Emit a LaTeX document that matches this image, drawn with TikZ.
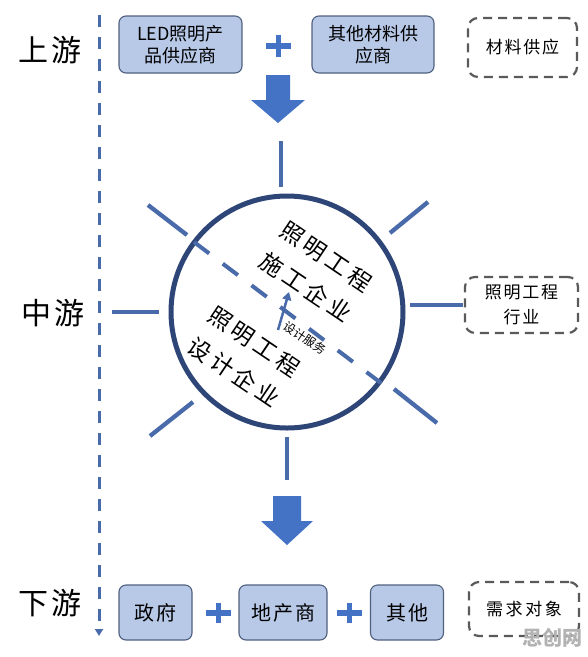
\documentclass[tikz,border=0pt]{standalone}
\usepackage{fontspec}
\setmainfont{Noto Sans CJK SC}
\usetikzlibrary{arrows.meta}
\definecolor{boxfill}{HTML}{B8C9E8}
\definecolor{boxline}{HTML}{50617F}
\definecolor{accent}{HTML}{4472C4}
\definecolor{raycol}{HTML}{4A6BAA}
\definecolor{ring}{HTML}{2E4677}
\definecolor{dashgray}{HTML}{5A5A5A}
\definecolor{wmcol}{HTML}{B2B2B2}
\begin{document}
\begin{tikzpicture}[x=1pt,y=-1pt,
  solidbox/.style={draw=boxline,line width=1.1pt,fill=boxfill,rounded corners=7pt,align=center,inner sep=0pt},
  dashbox/.style={draw=dashgray,line width=2.2pt,dash pattern=on 9pt off 6pt,rounded corners=10pt,align=center,inner sep=0pt},
  sidelabel/.style={font=\fontsize{30}{30}\selectfont\addfontfeature{LetterSpace=10}},
  rayline/.style={draw=raycol,line width=4.3pt},
  plusline/.style={draw=accent,line width=5.5pt},
  blockarrow/.style={fill=accent,draw=none},
  circtext/.style={rotate=-34,align=center,font=\fontsize{23}{37}\selectfont\addfontfeature{LetterSpace=18}},
]
\useasboundingbox (0,0) rectangle (588,657);
\fill[white] (0,0) rectangle (588,657);

% side labels
\node[sidelabel] (up) at (50,50) {上游};
\node[sidelabel] (mid) at (53,313) {中游};
\node[sidelabel] (down) at (50,603) {下游};

% vertical dashed timeline
\coordinate (vtop) at (99,15);
\coordinate (vbot) at (99,636);
\draw[draw=raycol,line width=3pt,dash pattern=on 12pt off 10pt,-{Triangle[length=7pt,width=8pt]}] (vtop) -- (vbot);

% upstream
\node[solidbox,minimum width=123pt,minimum height=57pt,font=\fontsize{18}{22}\selectfont] (led) at (180.5,44.5) {LED照明产\\品供应商};
\node[solidbox,minimum width=122pt,minimum height=57pt,font=\fontsize{18}{22}\selectfont] (other) at (373,44.5) {其他材料供\\应商};
\node[dashbox,minimum width=109pt,minimum height=59pt,font=\fontsize{17}{22}\selectfont\addfontfeature{LetterSpace=10}] (mat) at (522.5,47.5) {材料供应};
\coordinate (p1) at (278.5,46);
\draw[plusline] ([xshift=-12.5pt]p1) -- ([xshift=12.5pt]p1);
\draw[plusline] ([yshift=-11pt]p1) -- ([yshift=11pt]p1);

% top block arrow
\fill[blockarrow] (266,75) -- (290,75) -- (290,100) -- (305,100) -- (278,123) -- (251,100) -- (266,100) -- cycle;

% central circle
\node[circle,draw=ring,line width=5pt,minimum size=232pt,inner sep=0pt] (sun) at (287,312) {};

% rays
\draw[rayline] (281,141) -- (281,187);
\draw[rayline] (287,437) -- (287,480);
\draw[rayline] (112,312) -- (159,312);
\draw[rayline] (410,305) -- (463,305);
\draw[rayline] (148,205) -- (187,235);
\draw[rayline] (390,233) -- (428,202);
\draw[rayline] (150,436) -- (193,402);
\draw[rayline] (394,389) -- (437,423);

% dashed diameter
\coordinate (d1) at (194,242);
\coordinate (d2) at (381,383);
\draw[draw=raycol,line width=4pt,dash pattern=on 19pt off 17pt] (d1) -- (d2);

% texts inside circle
\node[circtext] (build) at (316,272) {照明工程\\施工企业};
\node[circtext] (design) at (244,357) {照明工程\\设计企业};
\node[rotate=-34,font=\fontsize{12}{12}\selectfont] (serv) at (305,338) {设计服务};
\coordinate (a1) at (278,330);
\coordinate (a2) at (289,292);
\draw[draw=raycol,line width=2.5pt,-{Triangle[length=8pt,width=9pt]}] (a1) -- (a2);

% right label
\node[dashbox,minimum width=113pt,minimum height=56pt,font=\fontsize{17}{25}\selectfont\addfontfeature{LetterSpace=10}] (ind) at (521.5,305) {照明工程\\行业};

% bottom block arrow
\fill[blockarrow] (273,496) -- (301,496) -- (301,521) -- (313,521) -- (287,545) -- (261,521) -- (273,521) -- cycle;

% downstream
\node[solidbox,minimum width=73pt,minimum height=55pt,font=\fontsize{20}{22}\selectfont\addfontfeature{LetterSpace=10}] (gov) at (155.5,612.5) {政府};
\node[solidbox,minimum width=88pt,minimum height=55pt,font=\fontsize{20}{22}\selectfont\addfontfeature{LetterSpace=10}] (estate) at (283,612.5) {地产商};
\node[solidbox,minimum width=73pt,minimum height=55pt,font=\fontsize{20}{22}\selectfont\addfontfeature{LetterSpace=10}] (others) at (407,612.5) {其他};
\node[dashbox,minimum width=110pt,minimum height=54pt,font=\fontsize{17}{22}\selectfont\addfontfeature{LetterSpace=15}] (demand) at (524,609) {需求对象};
\coordinate (p2) at (218.5,613);
\coordinate (p3) at (349.5,613);
\draw[plusline] ([xshift=-12.5pt]p2) -- ([xshift=12.5pt]p2);
\draw[plusline] ([yshift=-10pt]p2) -- ([yshift=10pt]p2);
\draw[plusline] ([xshift=-12.5pt]p3) -- ([xshift=12.5pt]p3);
\draw[plusline] ([yshift=-10pt]p3) -- ([yshift=10pt]p3);

% watermark
\node[text=wmcol,font=\fontsize{20}{20}\selectfont\bfseries] (wm) at (552,638) {思创网};
\end{tikzpicture}
\end{document}
